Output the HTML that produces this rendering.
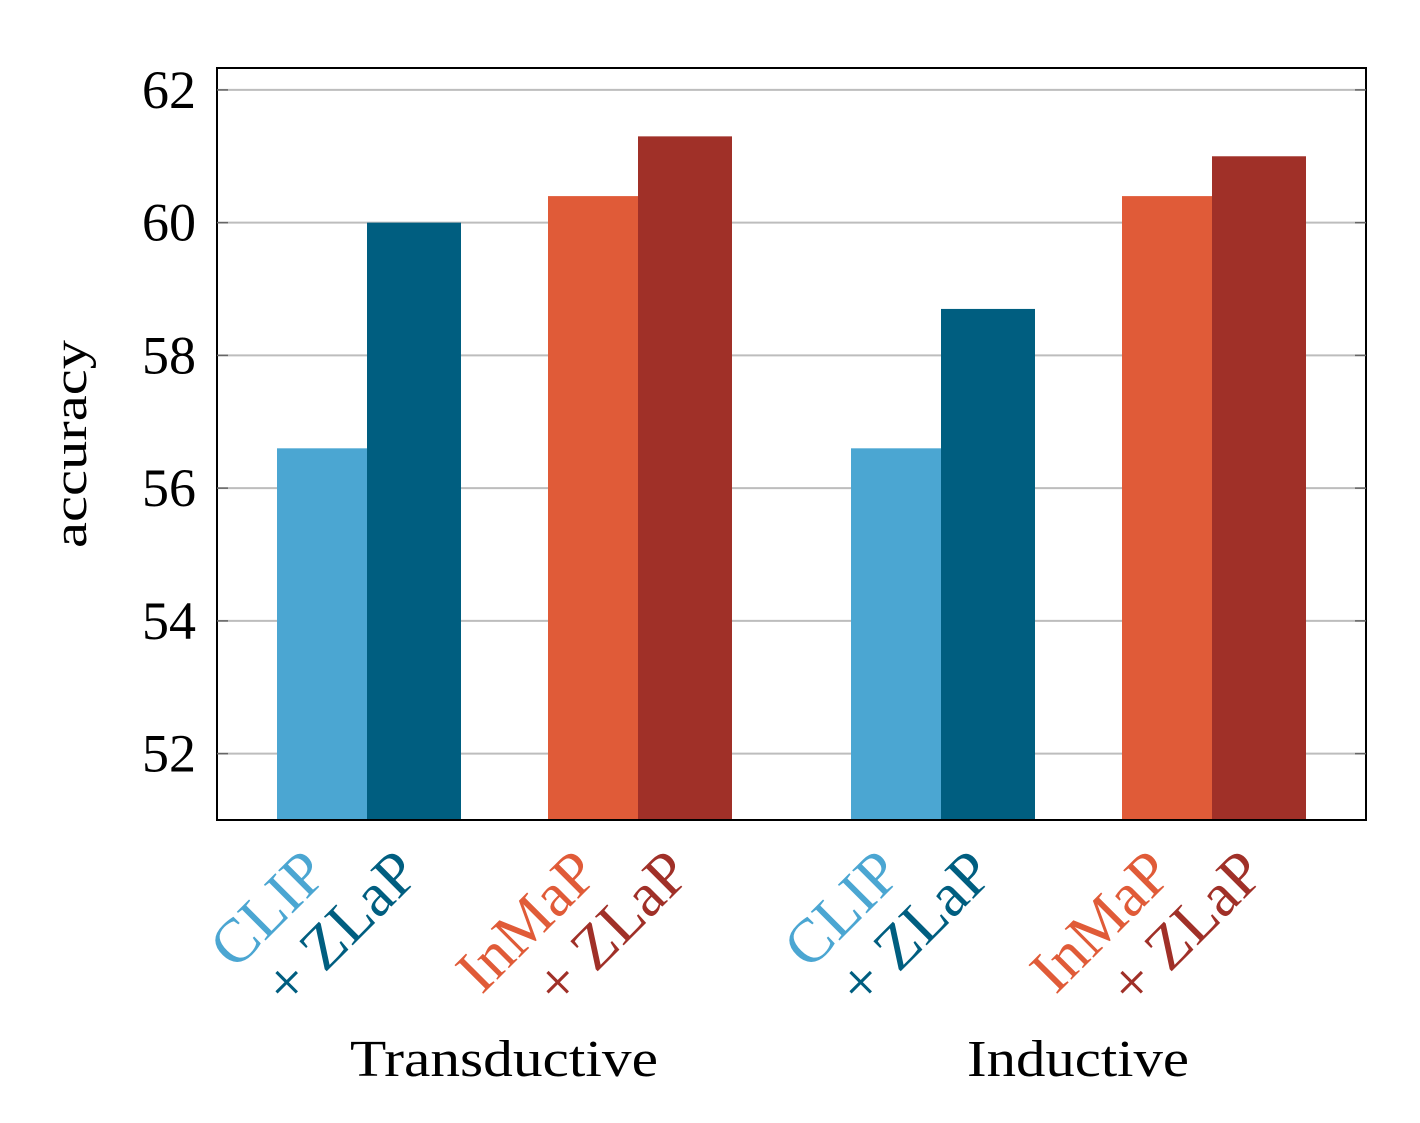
<!DOCTYPE html>
<html><head><meta charset="utf-8"><style>
html,body{margin:0;padding:0;background:#fff;}
svg text{font-family:"Liberation Serif",serif;}
</style></head><body>
<svg width="1420" height="1118" viewBox="0 0 1420 1118" xmlns="http://www.w3.org/2000/svg">
<g id="grid"></g>
<g id="bars"></g>
<rect x="217" y="68" width="1149" height="752" fill="none" stroke="#000" stroke-width="2"/>
<g id="ticks"></g>
<g id="xlabels"></g>
<text x="0" y="0" transform="translate(86,444) rotate(-90)" text-anchor="middle" font-size="48" textLength="208" lengthAdjust="spacingAndGlyphs">accuracy</text>
<text x="504" y="1076" text-anchor="middle" font-size="52" textLength="308" lengthAdjust="spacingAndGlyphs">Transductive</text>
<text x="1078" y="1076" text-anchor="middle" font-size="52" textLength="222" lengthAdjust="spacingAndGlyphs">Inductive</text>
</svg>
<script>
const groups = ["Transductive","Inductive"];
const methods = ["CLIP","+ ZLaP","InMaP","+ ZLaP"];
const transductive = [56.6, 60.0, 60.4, 61.3];
const inductive = [56.6, 58.7, 60.4, 61.0];
const yTicks = [52,54,56,58,60,62];
const colors = ["#4BA6D2","#005E80","#E05B38","#A03028"];
const values = [transductive, inductive];

const NS="http://www.w3.org/2000/svg";
const yMin=51, yMax=62.33, plotTop=68, plotBottom=820;
const yScale=v=>plotBottom-(v-yMin)/(yMax-yMin)*(plotBottom-plotTop);
const groupStart=[277,851];
const barOffsets=[0,90,271,361];
const barWidths=[90,94,90,94];
function mk(t,a){const e=document.createElementNS(NS,t);for(const k in a)e.setAttribute(k,a[k]);return e;}
const gridG=document.getElementById('grid'),ticksG=document.getElementById('ticks'),barsG=document.getElementById('bars'),xlG=document.getElementById('xlabels');
yTicks.forEach(t=>{
  const g=mk('line',{x1:217,x2:1366,y1:yScale(t),y2:yScale(t),stroke:'#bdbdbd','stroke-width':2});
  
  
  gridG.appendChild(g);
  ticksG.appendChild(mk('line',{x1:217,x2:228,y1:yScale(t),y2:yScale(t),stroke:'#666','stroke-width':1.5}));
  ticksG.appendChild(mk('line',{x1:1355,x2:1366,y1:yScale(t),y2:yScale(t),stroke:'#666','stroke-width':1.5}));
  const l=mk('text',{x:196,y:yScale(t)+18,'text-anchor':'end','font-size':54});
  l.textContent=t;
  
  
  ticksG.appendChild(l);
});
groups.forEach((g,gi)=>{
  methods.forEach((m,mi)=>{
    const v=values[gi][mi];
    const x=groupStart[gi]+barOffsets[mi], w=barWidths[mi];
    const r=mk('rect',{x:x,y:yScale(v),width:w,height:plotBottom-yScale(v),fill:colors[mi]});
    
    
    barsG.appendChild(r);
    const cx=x+w/2;
    const t=mk('text',{x:0,y:0,'text-anchor':'end','font-size':62,fill:colors[mi],transform:`translate(${cx+8},${876}) rotate(-45)`});
    t.textContent=m;
    
    
    xlG.appendChild(t);
  });
});
</script>
</body></html>
